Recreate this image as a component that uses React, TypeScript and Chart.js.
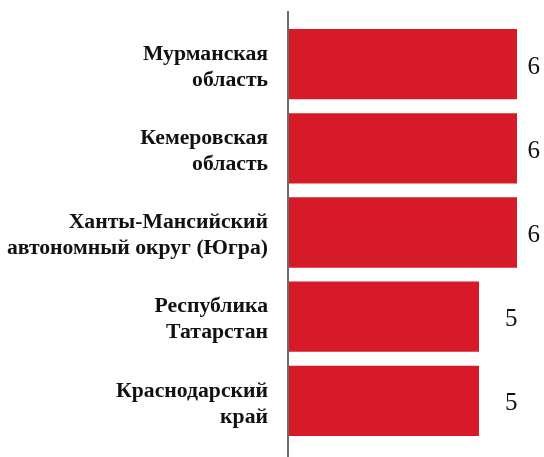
import React, { useEffect, useRef } from "react";
import { Chart, registerables } from "chart.js";

Chart.register(...registerables);

const categories: string[][] = [
  ["Мурманская", "область"],
  ["Кемеровская", "область"],
  ["Ханты-Мансийский", "автономный округ (Югра)"],
  ["Республика", "Татарстан"],
  ["Краснодарский", "край"],
];
const values: number[] = [6, 6, 6, 5, 5];

const FONT = '"Liberation Serif", "DejaVu Serif", serif';

const axisLinePlugin = {
  id: "axisLine",
  afterDatasetsDraw(chart: any) {
    const { ctx } = chart;
    const x = chart.scales.x.getPixelForValue(0) - 1;
    ctx.save();
    ctx.strokeStyle = "#6b6b6b";
    ctx.lineWidth = 2;
    ctx.beginPath();
    ctx.moveTo(x, 11);
    ctx.lineTo(x, chart.height);
    ctx.stroke();
    ctx.restore();
  },
};

const valueLabelPlugin = {
  id: "valueLabels",
  afterDatasetsDraw(chart: any) {
    const { ctx } = chart;
    const meta = chart.getDatasetMeta(0);
    ctx.save();
    ctx.font = `25px ${FONT}`;
    ctx.fillStyle = "#111111";
    ctx.textBaseline = "middle";
    ctx.textAlign = "left";
    meta.data.forEach((bar: any, i: number) => {
      const text = String(values[i]);
      const w = ctx.measureText(text).width;
      const x = Math.min(bar.x + 26, chart.width - 4 - w);
      ctx.fillText(text, x, bar.y + 3);
    });
    ctx.restore();
  },
};

export default function App() {
  const ref = useRef<HTMLCanvasElement | null>(null);

  useEffect(() => {
    if (!ref.current) return;
    const chart = new Chart(ref.current, {
      type: "bar",
      data: {
        labels: categories,
        datasets: [
          {
            data: values,
            backgroundColor: "#d71a28",
            borderWidth: 0,
            categoryPercentage: 1,
            barPercentage: 0.835,
          },
        ],
      },
      options: {
        indexAxis: "y",
        animation: false,
        responsive: false,
        layout: { padding: { top: 22, bottom: 14, right: 27, left: 0 } },
        plugins: {
          legend: { display: false },
          tooltip: { enabled: false },
        },
        scales: {
          x: {
            display: false,
            min: 0,
            max: 6,
          },
          y: {
            grid: { display: false, drawTicks: false },
            border: { display: false },
            afterFit(scale: any) {
              scale.width = 289;
              scale.paddingTop = 0;
              scale.paddingBottom = 0;
            },
            ticks: {
              color: "#111111",
              padding: 21,
              labelOffset: 3,
              font: { family: FONT, size: 21.7, weight: "bold", lineHeight: 26 / 21.7 },
            },
          },
        },
      },
      plugins: [axisLinePlugin, valueLabelPlugin],
    });
    return () => chart.destroy();
  }, []);

  return (
    <div style={{ position: "absolute", left: 0, top: 0, width: 544, height: 457, background: "#fff" }}>
      <canvas ref={ref} width={544} height={457} style={{ display: "block" }} />
    </div>
  );
}
